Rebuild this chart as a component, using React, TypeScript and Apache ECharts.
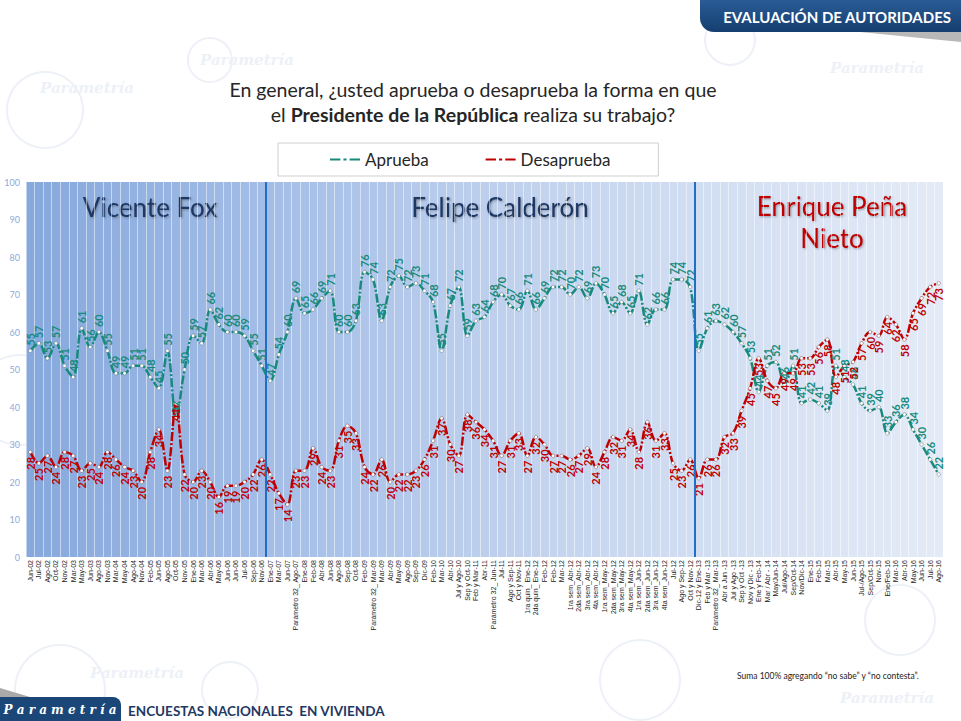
import React, { useEffect, useRef } from "react";
import * as echarts from "echarts";

// categorias (periodos de levantamiento)
const foxLabels = [
  "Jun-02", "Jul-02", "Ago-02", "Oct-02", "Nov-02", "Mar-03", "May-03", "Jun-03", "Ago-03", "Nov-03",
  "Mar-04", "May-04", "Ago-04", "Nov-04", "Feb-05", "Jun-05", "Ago-05", "Oct-05", "Nov-05", "Ene-06",
  "Mar-06", "Abr-06", "May-06", "Jun-06", "Jun-06", "Jul-06", "Sep-06", "Nov-06",
];
const calderonLabels = [
  "Ene-07", "Mar-07", "Jun-07", "Parámetro 32_ Ago-07", "Ene-08", "Feb-08", "Abr-08", "Jun-08", "Ago-08", "Sep-08",
  "Oct-08", "Feb-09", "Parámetro 32_ Mar-09", "Mar-09", "Abr-09", "May-09", "Ago-09", "Sep-09", "Dic-09", "Feb-10",
  "Mar-10", "Abr-10", "Jul y Ago-10", "Sep y Oct-10", "Feb y Mar-11", "Abr-11", "Parámetro 32_ Jun-11", "Jul-11",
  "Ago y Sep-11", "Oct y Nov-11", "1ra quin_ Ene-12", "2da quin_ Ene-12", "Feb-12", "Feb-12", "Mar-12",
  "1ra sem_Abr-12", "2da sem_Abr-12", "3ra sem_Abr-12", "4ta sem_Abr-12", "1ra sem_May-12", "2da sem_May-12",
  "3ra sem_May-12", "4ta sem_May-12", "1ra sem_Jun-12", "2da sem_Jun-12", "3ra sem_Jun-12", "4ta sem_Jun-12",
  "Jul-12", "Ago y Sep-12", "Oct y Nov-12",
];
const penaLabels = [
  "Dic-12 y Ene-13", "Feb y Mar -13", "Parámetro 32_ Mar-13", "Abr a Jun -13", "Jul y Ago -13", "Sep y Oct -13",
  "Nov y Dic - 13", "Ene y Feb-14", "Mar / Abr - 14", "May/Jun-14", "Jul/Ago-14", "Sep/Oct-14", "Nov/Dic-14",
  "Ene-15", "Feb-15", "Mar-15", "Abr-15", "May-15", "Jun-15", "Jul-/Ago-15", "Sep/Oct-15", "Nov-15",
  "Ene/Feb-16", "Mar-16", "Abr-16", "May-16", "Jun-16", "Jul-16", "Ago-16",
];

// Aprueba
const foxAprueba = [55, 57, 53, 57, 51, 48, 61, 56, 60, 55, 49, 49, 51, 51, 48, 45, 55, 37, 50, 59, 57, 66, 62, 60, 60, 59, 55, 51];
const calderonAprueba = [
  47, 54, 60, 69, 65, 66, 69, 71, 60, 60, 63, 76, 74, 63, 72, 75, 72, 73, 71, 68, 55, 67, 72, 59, 63,
  64, 68, 70, 67, 66, 71, 66, 69, 72, 72, 70, 72, 69, 73, 70, 65, 68, 65, 71, 62, 66, 66, 74, 74, 72,
];
const penaAprueba = [55, 61, 63, 62, 60, 57, 53, 44, 51, 52, 46, 51, 41, 42, 41, 39, 51, 48, 46, 41, 39, 40, 33, 36, 38, 34, 30, 26, 22];

// Desaprueba
const foxDesaprueba = [28, 25, 27, 24, 28, 27, 23, 25, 24, 28, 26, 24, 23, 20, 28, 34, 23, 41, 22, 20, 23, 20, 16, 19, 19, 20, 22, 26];
const calderonDesaprueba = [
  22, 17, 14, 23, 23, 29, 24, 23, 31, 35, 33, 24, 22, 26, 20, 22, 22, 23, 26, 31, 37, 30, 27, 38, 36,
  34, 31, 27, 31, 33, 27, 32, 30, 27, 27, 26, 27, 29, 24, 28, 32, 31, 34, 28, 36, 31, 33, 25, 23, 26,
];
const penaDesaprueba = [21, 26, 26, 32, 33, 39, 45, 53, 47, 45, 49, 49, 53, 53, 56, 58, 48, 51, 52, 57, 60, 59, 64, 62, 58, 65, 69, 72, 73];

const yTicks = [0, 10, 20, 30, 40, 50, 60, 70, 80, 90, 100];

const GREEN = "#178a7b";
const RED = "#c00000";
const NAVY = "#1f3864";
const FONT = "Lato, 'Open Sans', sans-serif";

const App = () => {
  const chartRef = useRef(null);

  useEffect(() => {
    document.body.style.margin = "0";
    let myChart: echarts.ECharts = null;
    if (chartRef.current !== null) {
      myChart = echarts.init(chartRef.current, null, { renderer: "svg" });
    }

    const categories = [...foxLabels, ...calderonLabels, ...penaLabels];
    const aprueba = [...foxAprueba, ...calderonAprueba, ...penaAprueba];
    const desaprueba = [...foxDesaprueba, ...calderonDesaprueba, ...penaDesaprueba];
    const n = categories.length;
    const cut1 = foxLabels.length - 0.5;
    const cut2 = foxLabels.length + calderonLabels.length - 0.5;

    const dashDot = [9, 2, 2, 2];
    const legendIcon = "path://M0,3h10v2h-10z M13,3h3v2h-3z M19,3h10v2h-10z";

    // marca de agua de fondo
    const mark = (x, y, r) => ({
      type: "circle",
      z: -10,
      shape: { cx: x, cy: y, r },
      style: { fill: "none", stroke: "#edf1f7", lineWidth: 2 },
    });
    const markText = (x, y) => ({
      type: "text",
      z: -10,
      x,
      y,
      style: {
        text: "Parametría",
        fill: "#edf1f7",
        font: "italic bold 15px 'DejaVu Serif', serif",
      },
    });

    const option = {
      animation: false,
      backgroundColor: "#ffffff",
      title: {
        left: 468,
        top: 72,
        textAlign: "center",
        text:
          "{n|En general, ¿usted aprueba o desaprueba la forma en que}\n{n|el }{b|Presidente de la República}{n| realiza su trabajo?}",
        textStyle: {
          fontWeight: "normal",
          rich: {
            n: { fontSize: 19.5, color: "#262626", fontFamily: FONT, fontWeight: "normal", lineHeight: 25 },
            b: { fontSize: 19.5, color: "#262626", fontFamily: FONT, fontWeight: "bold", lineHeight: 25 },
          },
        },
      },
      legend: {
        left: 278,
        top: 143,
        padding: [8, 48, 8, 52],
        borderColor: "#cfcfcf",
        borderWidth: 1,
        itemWidth: 30,
        itemHeight: 7,
        itemGap: 57,
        textStyle: { fontSize: 17, color: "#262626", fontFamily: FONT },
        data: [
          { name: "Aprueba", icon: legendIcon, itemStyle: { color: GREEN, borderWidth: 0 } },
          { name: "Desaprueba", icon: legendIcon, itemStyle: { color: RED, borderWidth: 0 } },
        ],
      },
      grid: {
        left: 26,
        right: 18,
        top: 182,
        bottom: 164,
        show: true,
        borderWidth: 0,
        backgroundColor: new echarts.graphic.LinearGradient(0, 0, 1, 0, [
          { offset: 0, color: "#86a8dc" },
          { offset: 0.27, color: "#a4bee7" },
          { offset: 0.6, color: "#c7d6ef" },
          { offset: 1, color: "#e4ebf7" },
        ]),
      },
      xAxis: [
        {
          type: "category",
          data: categories,
          axisLine: { show: false },
          axisTick: { show: false },
          splitLine: {
            show: true,
            interval: 0,
            lineStyle: { color: "rgba(255,255,255,0.5)", width: 1 },
          },
          axisLabel: {
            interval: 0,
            rotate: 90,
            fontSize: 7,
            color: "#222",
            margin: 3,
            fontFamily: "'Liberation Sans Narrow', 'Liberation Sans', sans-serif",
          },
        },
        {
          type: "value",
          min: -0.5,
          max: n - 0.5,
          show: false,
        },
      ],
      yAxis: {
        type: "value",
        min: yTicks[0],
        max: yTicks[yTicks.length - 1],
        interval: 10,
        axisLine: { show: false },
        axisTick: { show: false },
        splitLine: { show: false },
        axisLabel: { fontSize: 9, color: "#8eaadb", margin: 6, fontFamily: FONT },
      },
      series: [
        {
          name: "Aprueba",
          type: "line",
          data: aprueba,
          smooth: 0.35,
          symbol: "circle",
          symbolSize: 3.5,
          lineStyle: { color: GREEN, width: 2.5, type: dashDot },
          itemStyle: { color: "#ffffff", borderColor: "#3d5a55", borderWidth: 0.4 },
          label: {
            show: true,
            position: "top",
            rotate: 90,
            align: "left",
            verticalAlign: "middle",
            distance: 3,
            color: GREEN,
            fontSize: 11,
            fontWeight: "bold",
            fontFamily: FONT,
          },
          z: 3,
        },
        {
          name: "Desaprueba",
          type: "line",
          data: desaprueba,
          smooth: 0.35,
          symbol: "circle",
          symbolSize: 3.5,
          lineStyle: { color: RED, width: 2.5, type: dashDot },
          itemStyle: { color: "#ffffff", borderColor: "#6a2a2a", borderWidth: 0.4 },
          label: {
            show: true,
            position: "bottom",
            rotate: 90,
            align: "right",
            verticalAlign: "middle",
            distance: 3,
            color: RED,
            fontSize: 11,
            fontWeight: "bold",
            fontFamily: FONT,
          },
          z: 3,
        },
        {
          name: "sep",
          type: "line",
          xAxisIndex: 1,
          data: [],
          markLine: {
            silent: true,
            symbol: "none",
            label: { show: false },
            lineStyle: { color: "#1f6fc4", width: 2, type: "solid" },
            data: [{ xAxis: cut1 }, { xAxis: cut2 }],
          },
        },
      ],
      graphic: [
        mark(45, 110, 38),
        mark(80, 250, 30),
        mark(20, 400, 45),
        mark(60, 690, 45),
        mark(230, 690, 28),
        mark(640, 680, 40),
        mark(900, 620, 35),
        mark(730, 40, 25),
        mark(210, 60, 22),
        markText(40, 80),
        markText(200, 52),
        markText(90, 665),
        markText(840, 690),
        markText(830, 60),
        // cabecera
        {
          type: "polygon",
          shape: { points: [[860, 32], [961, 32], [961, 42]] },
          style: { fill: "#b8b8b8" },
        },
        {
          type: "rect",
          shape: { x: 700, y: 0, width: 261, height: 32, r: [0, 0, 0, 14] },
          style: {
            fill: new echarts.graphic.LinearGradient(0, 0, 0, 1, [
              { offset: 0, color: "#2a5c96" },
              { offset: 1, color: "#143e70" },
            ]),
          },
        },
        {
          type: "text",
          x: 951,
          y: 17,
          style: {
            text: "EVALUACIÓN DE AUTORIDADES",
            fill: "#ffffff",
            font: `bold 15px ${FONT}`,
            textAlign: "right",
            textVerticalAlign: "middle",
          },
        },
        // nombres de los periodos
        {
          type: "text",
          x: 150,
          y: 207,
          style: {
            text: "Vicente Fox",
            fill: NAVY,
            font: `26px ${FONT}`,
            textAlign: "center",
            textVerticalAlign: "middle",
            textShadowColor: "rgba(60,60,60,0.45)",
            textShadowBlur: 2,
            textShadowOffsetX: 1,
            textShadowOffsetY: 1,
          },
        },
        {
          type: "text",
          x: 500,
          y: 207,
          style: {
            text: "Felipe Calderón",
            fill: NAVY,
            font: `26px ${FONT}`,
            textAlign: "center",
            textVerticalAlign: "middle",
            textShadowColor: "rgba(60,60,60,0.45)",
            textShadowBlur: 2,
            textShadowOffsetX: 1,
            textShadowOffsetY: 1,
          },
        },
        {
          type: "text",
          x: 832,
          y: 222,
          style: {
            text: "Enrique Peña\nNieto",
            fill: RED,
            font: `26px ${FONT}`,
            lineHeight: 32,
            textAlign: "center",
            textVerticalAlign: "middle",
            textShadowColor: "rgba(60,60,60,0.45)",
            textShadowBlur: 2,
            textShadowOffsetX: 1,
            textShadowOffsetY: 1,
          },
        },
        // nota
        {
          type: "text",
          x: 737,
          y: 676,
          style: {
            text: "Suma 100% agregando “no sabe” y “no contesta”.",
            fill: "#222",
            font: `8.5px ${FONT}`,
            textVerticalAlign: "middle",
          },
        },
        // pie
        {
          type: "polygon",
          shape: { points: [[0, 688], [0, 697], [30, 697]] },
          style: { fill: "#a9a9a9" },
        },
        {
          type: "rect",
          shape: { x: 0, y: 697, width: 121, height: 24, r: [0, 8, 0, 0] },
          style: { fill: "#1a4778" },
        },
        {
          type: "text",
          x: 60,
          y: 710,
          style: {
            text: "P a r a m e t r í a",
            fill: "#ffffff",
            font: "italic bold 12px 'DejaVu Serif', serif",
            textAlign: "center",
            textVerticalAlign: "middle",
          },
        },
        {
          type: "text",
          x: 128,
          y: 711,
          style: {
            text: "ENCUESTAS NACIONALES  EN VIVIENDA",
            fill: NAVY,
            font: `bold 13.5px ${FONT}`,
            textVerticalAlign: "middle",
          },
        },
      ],
    };

    if (myChart !== null) {
      myChart.setOption(option);
    }

    return () => {
      if (myChart !== null) {
        myChart.dispose();
      }
    };
  }, []);

  return <div ref={chartRef} style={{ width: 961, height: 721 }}></div>;
};

export default App;
